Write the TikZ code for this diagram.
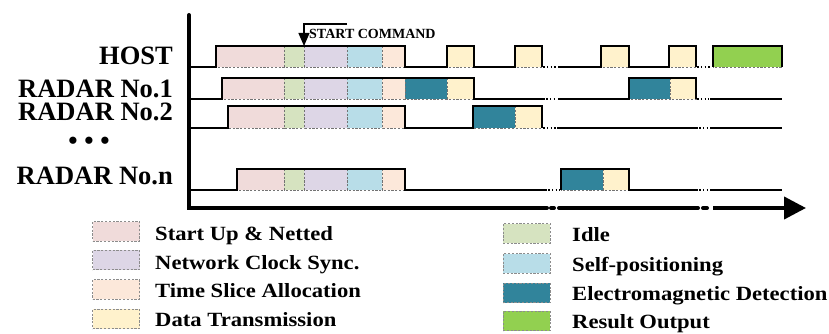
\documentclass[tikz,border=0pt]{standalone}
\usepackage{fontspec}
\setmainfont{Liberation Serif}
\newfontfamily\legfont{Liberation Serif}[FakeStretch=1.12]
\usetikzlibrary{arrows.meta}
\definecolor{cstart}{HTML}{F0DBDA}
\definecolor{cidle}{HTML}{D6E3C0}
\definecolor{csync}{HTML}{DDD6E6}
\definecolor{cself}{HTML}{B8DDE8}
\definecolor{cslice}{HTML}{FCE8DA}
\definecolor{cdata}{HTML}{FFF2CC}
\definecolor{cem}{HTML}{31849B}
\definecolor{cres}{HTML}{92D050}
\newcommand\segm[5]{\path[segbox,fill=#5] (#1,#3) rectangle (#2,#4);}
\begin{document}
\begin{tikzpicture}[x=1pt,y=-1pt,
  sig/.style={line width=1.4pt,black,line join=miter},
  segbox/.style={draw=black!55,dash pattern=on 2.2pt off 1.6pt,line width=0.8pt},
  gapdots/.style={line width=1.4pt,black,dash pattern=on 1.6pt off 2.2pt},
  axisline/.style={line width=4pt,black,line cap=round},
  rowlabel/.style={font=\fontsize{26.5}{30}\selectfont\bfseries,anchor=base east,inner sep=0pt},
  legtext/.style={font=\fontsize{20.2}{23}\selectfont\legfont\bfseries,anchor=base west,inner sep=0pt},
  legbox/.style={draw=black!45,dash pattern=on 2.2pt off 1.6pt,line width=0.8pt,minimum width=47pt,minimum height=19.5pt,inner sep=0pt}]
\useasboundingbox (0,0) rectangle (829,334);
% ---- row labels
\node[rowlabel] (host) at (173,65) {HOST};
\node[rowlabel] (r1) at (173,98) {RADAR No.1};
\node[rowlabel] (r2) at (173,121) {RADAR No.2};
\node[font=\fontsize{26.5}{30}\selectfont\bfseries,inner sep=0pt] (dots) at (89,143) {• • •};
\node[rowlabel] (rn) at (173,184) {RADAR No.n};
% ---- colored segments: HOST (46-67)
\segm{216}{284}{46}{67}{cstart}
\segm{284}{304}{46}{67}{cidle}
\segm{304}{347}{46}{67}{csync}
\segm{347}{382}{46}{67}{cself}
\segm{382}{405}{46}{67}{cslice}
\segm{447}{474}{46}{67}{cdata}
\segm{515}{542}{46}{67}{cdata}
\segm{601}{629}{46}{67}{cdata}
\segm{669}{696}{46}{67}{cdata}
\segm{713}{782}{46}{67}{cres}
% RADAR 1 (78-99)
\segm{222}{284}{78}{99}{cstart}
\segm{284}{304}{78}{99}{cidle}
\segm{304}{347}{78}{99}{csync}
\segm{347}{382}{78}{99}{cself}
\segm{382}{405}{78}{99}{cslice}
\segm{405}{447}{78}{99}{cem}
\segm{447}{474}{78}{99}{cdata}
\segm{629}{670}{78}{99}{cem}
\segm{670}{696}{78}{99}{cdata}
% RADAR 2 (106-128)
\segm{228}{284}{106}{128}{cstart}
\segm{284}{304}{106}{128}{cidle}
\segm{304}{347}{106}{128}{csync}
\segm{347}{382}{106}{128}{cself}
\segm{382}{405}{106}{128}{cslice}
\segm{473}{515}{106}{128}{cem}
\segm{515}{542}{106}{128}{cdata}
% RADAR n (169-190)
\segm{237}{284}{169}{190}{cstart}
\segm{284}{304}{169}{190}{cidle}
\segm{304}{347}{169}{190}{csync}
\segm{347}{382}{169}{190}{cself}
\segm{382}{405}{169}{190}{cslice}
\segm{561}{603}{169}{190}{cem}
\segm{603}{629}{169}{190}{cdata}
% ---- signal outlines
\draw[sig] (190,67) -- (216,67) -- (216,46) -- (405,46) -- (405,67) -- (447,67) -- (447,46) -- (474,46) -- (474,67) -- (515,67) -- (515,46) -- (542,46) -- (542,67);
\draw[gapdots] (543,67) -- (557,67);
\draw[sig] (558,67) -- (601,67) -- (601,46) -- (629,46) -- (629,67) -- (669,67) -- (669,46) -- (696,46) -- (696,67);
\draw[gapdots] (697,67) -- (712,67);
\draw[sig] (713,67) -- (713,46) -- (782,46) -- (782,67);
\draw[sig] (190,99) -- (222,99) -- (222,78) -- (474,78) -- (474,99) -- (545,99);
\draw[gapdots] (546,99) -- (557,99);
\draw[sig] (558,99) -- (629,99) -- (629,78) -- (696,78) -- (696,99);
\draw[gapdots] (697,99) -- (709,99);
\draw[sig] (710,99) -- (782,99);
\draw[sig] (190,128) -- (228,128) -- (228,106) -- (405,106) -- (405,128) -- (473,128) -- (473,106) -- (542,106) -- (542,128);
\draw[gapdots] (543,128) -- (556,128);
\draw[sig] (557,128) -- (698,128);
\draw[gapdots] (699,128) -- (709,128);
\draw[sig] (710,128) -- (782,128);
\draw[sig] (190,190) -- (237,190) -- (237,169) -- (405,169) -- (405,190) -- (547,190);
\draw[gapdots] (548,190) -- (560,190);
\draw[sig] (561,190) -- (561,169) -- (629,169) -- (629,190) -- (698,190);
\draw[gapdots] (699,190) -- (709,190);
\draw[sig] (710,190) -- (782,190);
% ---- start command
\coordinate (scA) at (347,24);
\coordinate (scB) at (304,24);
\coordinate (scC) at (304,46);
\draw[line width=1.2pt,-{Triangle[length=13pt,width=11pt]}] (scA) -- (scB) -- (scC);
\node[font=\fontsize{14}{16}\selectfont\bfseries,anchor=west,inner sep=0pt] (startcmd) at (309,34) {START COMMAND};
% ---- axes
\draw[axisline] (189,15) -- (189,208) -- (547,208);
\draw[axisline] (551,208) -- (554,208);
\draw[axisline] (559,208) -- (698,208);
\draw[axisline] (703,208) -- (707,208);
\draw[line width=4pt,black,-{Triangle[length=22pt,width=22pt]}] (713,208) -- (806,208);
% ---- legend
\node[legbox,fill=cstart] (lb1) at (116,231.3) {};
\node[legbox,fill=csync] (lb2) at (116,260) {};
\node[legbox,fill=cslice] (lb3) at (116,289.5) {};
\node[legbox,fill=cdata] (lb4) at (116,319) {};
\node[legtext] (lt1) at (155,240) {Start Up \& Netted};
\node[legtext] (lt2) at (155,269) {Network Clock Sync.};
\node[legtext] (lt3) at (155,297.3) {Time Slice Allocation};
\node[legtext] (lt4) at (155,326.5) {Data Transmission};
\node[legbox,fill=cidle] (rb1) at (526.5,233.3) {};
\node[legbox,fill=cself] (rb2) at (526.5,263.3) {};
\node[legbox,fill=cem] (rb3) at (526.5,292.8) {};
\node[legbox,fill=cres] (rb4) at (526.5,320.8) {};
\node[legtext] (rt1) at (572,241.5) {Idle};
\node[legtext] (rt2) at (572,271) {Self-positioning};
\node[legtext] (rt3) at (572,300) {Electromagnetic Detection};
\node[legtext] (rt4) at (572,328.3) {Result Output};
\end{tikzpicture}
\end{document}
